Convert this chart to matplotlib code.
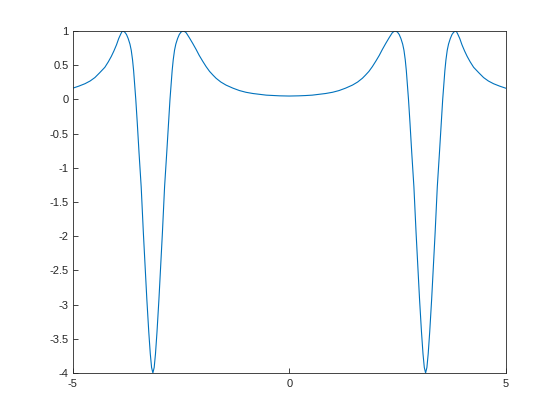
import matplotlib
matplotlib.use('Agg')
import matplotlib.pyplot as plt

plt.rcParams['font.family'] = ['Liberation Sans', 'DejaVu Sans']
plt.rcParams['axes.unicode_minus'] = False

# values, left half, centre, right half
xLeft = [-5.0, -4.86, -4.72, -4.6, -4.49, -4.38, -4.26, -4.18, -4.11, -4.05, -3.99, -3.94,
         -3.89, -3.865, -3.84, -3.80, -3.76, -3.72, -3.68, -3.65, -3.62, -3.595, -3.57,
         -3.545, -3.51, -3.47, -3.42, -3.37, -3.33, -3.29, -3.245, -3.21, -3.18, -3.15,
         -3.12, -3.09, -3.055, -3.01, -2.97, -2.93, -2.88, -2.83, -2.79, -2.755, -2.73,
         -2.705, -2.68, -2.65, -2.62, -2.58, -2.54, -2.50, -2.46, -2.42, -2.38, -2.305,
         -2.23, -2.15, -2.08, -2.0, -1.92, -1.84, -1.76, -1.69, -1.58, -1.46, -1.30,
         -1.15, -1.0, -0.84, -0.68, -0.53, -0.37, -0.22, -0.1]
yLeft = [0.165, 0.195, 0.23, 0.27, 0.32, 0.39, 0.47, 0.55, 0.63, 0.71, 0.80, 0.89,
         0.96, 0.99, 1.0, 0.985, 0.95, 0.89, 0.81, 0.72, 0.58, 0.42, 0.22,
         0.0, -0.35, -0.78, -1.28, -1.95, -2.45, -2.92, -3.40, -3.72, -3.92, -4.0,
         -3.92, -3.72, -3.40, -2.92, -2.45, -1.95, -1.28, -0.78, -0.35, 0.0, 0.22,
         0.42, 0.58, 0.72, 0.81, 0.89, 0.95, 0.985, 1.0, 0.995, 0.975, 0.90,
         0.82, 0.73, 0.645, 0.56, 0.48, 0.41, 0.355, 0.31, 0.255, 0.21, 0.165,
         0.13, 0.105, 0.087, 0.074, 0.063, 0.057, 0.053, 0.051]
xMid = [0.0]
yMid = [0.05]
xRight = [0.1, 0.22, 0.37, 0.53, 0.68, 0.84, 1.0, 1.15, 1.30, 1.46, 1.58, 1.69, 1.76,
          1.84, 1.92, 2.0, 2.08, 2.15, 2.23, 2.305, 2.38, 2.42, 2.46, 2.50, 2.54, 2.58,
          2.62, 2.65, 2.68, 2.705, 2.73, 2.755, 2.79, 2.83, 2.88, 2.93, 2.97, 3.01, 3.055,
          3.09, 3.12, 3.15, 3.18, 3.21, 3.245, 3.29, 3.33, 3.37, 3.42, 3.47, 3.51, 3.545,
          3.57, 3.595, 3.62, 3.65, 3.68, 3.72, 3.76, 3.80, 3.84, 3.865, 3.89, 3.94, 3.99,
          4.05, 4.11, 4.18, 4.26, 4.38, 4.49, 4.6, 4.72, 4.86, 5.0]
yRight = [0.051, 0.053, 0.057, 0.063, 0.074, 0.087, 0.105, 0.13, 0.165, 0.21, 0.255, 0.31, 0.355,
          0.41, 0.48, 0.56, 0.645, 0.73, 0.82, 0.90, 0.975, 0.995, 1.0, 0.985, 0.95, 0.89,
          0.81, 0.72, 0.58, 0.42, 0.22, 0.0, -0.35, -0.78, -1.28, -1.95, -2.45, -2.92, -3.40,
          -3.72, -3.92, -4.0, -3.92, -3.72, -3.40, -2.92, -2.45, -1.95, -1.28, -0.78, -0.35, 0.0,
          0.22, 0.42, 0.58, 0.72, 0.81, 0.89, 0.95, 0.985, 1.0, 0.99, 0.96, 0.89, 0.80,
          0.71, 0.63, 0.55, 0.47, 0.39, 0.32, 0.27, 0.23, 0.195, 0.165]

xTicks = [-5, 0, 5]
yTicks = [-4, -3.5, -3, -2.5, -2, -1.5, -1, -0.5, 0, 0.5, 1]
yTickLabels = ['-4', '-3.5', '-3', '-2.5', '-2', '-1.5', '-1', '-0.5', '0', '0.5', '1']

def main():
	fig = plt.figure(figsize = (5.6, 4.2), dpi = 100)
	axes = fig.add_axes([0.13, 0.112, 0.773, 0.814])

	xs = xLeft + xMid + xRight
	ys = yLeft + yMid + yRight
	axes.plot(xs, ys, color = '#0072BD', linewidth = 0.8)

	axes.set_xlim(-5, 5)
	axes.set_ylim(-4, 1)
	axes.set_xticks(xTicks)
	axes.set_yticks(yTicks)
	axes.set_yticklabels(yTickLabels)
	axes.tick_params(direction = 'in', length = 3.5, width = 0.6, labelsize = 8, colors = '#262626')
	axes.tick_params(axis = 'x', pad = 4)
	axes.tick_params(axis = 'y', pad = 3)
	for spine in axes.spines.values():
		spine.set_linewidth(0.6)
		spine.set_color('#262626')

	fig.savefig('out.png', dpi = 100)
	return 0

if __name__ == '__main__':
	main()
